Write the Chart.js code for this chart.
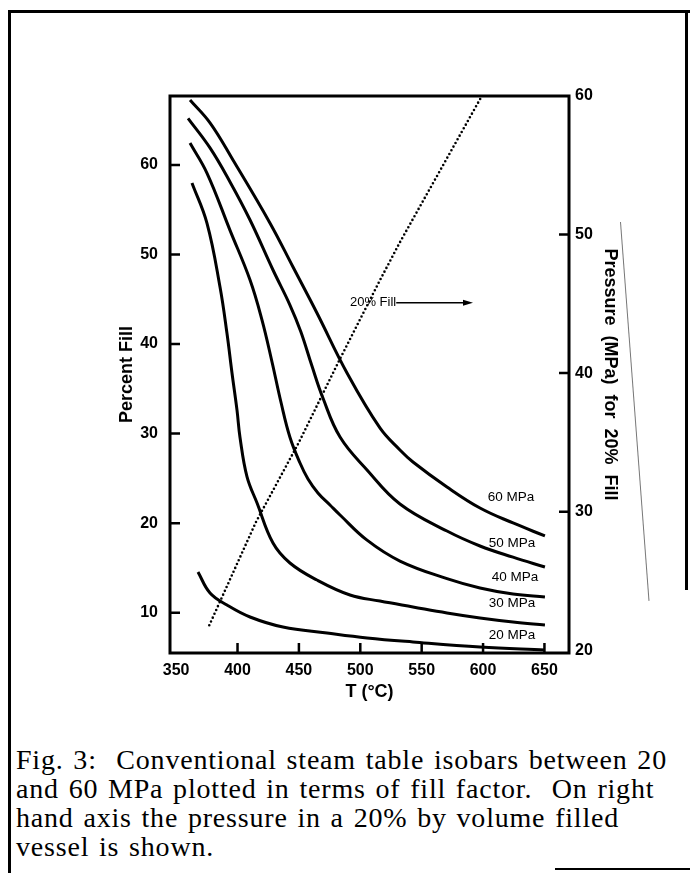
<!DOCTYPE html>
<html>
<head>
<meta charset="utf-8">
<title>Fig. 3 – steam table isobars</title>
<script src="https://cdn.jsdelivr.net/npm/chart.js@4.4.1/dist/chart.umd.min.js"></script>
<style>
  html, body { margin: 0; padding: 0; background: #fff; }
  body { width: 690px; height: 873px; position: relative; overflow: hidden; }
  #box { position: absolute; left: 8px; top: 10px; width: 680px; height: 900px;
         border-left: 3px solid #000; border-top: 3px solid #000; }
  #rightEdge { position: absolute; left: 685px; top: 10px; width: 3px; height: 580px; background: #000; }
  #foot { position: absolute; left: 555px; top: 868px; width: 135px; height: 2px; background: #000; }
  #scan { position: absolute; left: 620px; top: 222px; width: 1px; height: 380px; background: #777;
          transform-origin: 0 0; transform: rotate(-4.3deg); }
  #chartWrap { position: absolute; left: 0; top: 0; }
  #caption { position: absolute; left: 16px; top: 745px; color: #000;
             font: 28px "Liberation Serif", "Times New Roman", serif; line-height: 29px;
             letter-spacing: 0.8px; word-spacing: 2px; white-space: pre; }
</style>
</head>
<body>
<div id="box"></div>
<div id="rightEdge"></div>
<div id="scan"></div>
<div id="chartWrap"><canvas id="chart" width="690" height="720"></canvas></div>
<div id="caption">Fig. 3:  Conventional steam table isobars between 20
and 60 MPa plotted in terms of fill factor.  On right
hand axis the pressure in a 20% by volume filled
vessel is shown.</div>
<div id="foot"></div>

<script>
// --- axis ticks ---
const tempTicks = [350, 400, 450, 500, 550, 600, 650];
const fillTicks = [10, 20, 30, 40, 50, 60];
const pressTicks = [20, 30, 40, 50, 60];

// --- isobars: temperature (°C) vs percent fill ---
const isobars = ['60 MPa', '50 MPa', '40 MPa', '30 MPa', '20 MPa'];

const t60 = [361.3, 377.6, 396.3, 426.5, 445.2, 464.7, 489.2, 516.0, 532.3, 542.9, 570.6, 597.5, 624.4, 650.4];
const f60 = [67.25, 64.7, 60.55, 53.5, 48.6, 43.47, 36.77, 30.63, 28.17, 26.83, 24.04, 21.69, 20.02, 18.57];

const t50 = [359.7, 377.6, 393.9, 410.2, 428.9, 442.7, 451.5, 460.5, 469.5, 483.5, 505.5, 532.3, 570.6, 597.5, 624.4, 650.4];
const f50 = [65.2, 61.9, 58.1, 53.85, 48.27, 44.36, 41.4, 37.6, 34.0, 29.62, 25.94, 22.14, 19.12, 17.45, 16.2, 15.1];

const t40 = [361.3, 375.1, 393.9, 410.2, 419.9, 428.1, 435.4, 442.7, 450.9, 457.4, 465.5, 475.3, 483.5, 505.5, 532.3, 570.6, 597.5, 624.4, 650.4];
const f40 = [62.45, 59.1, 52.7, 47.15, 42.7, 38.0, 33.5, 29.6, 26.72, 24.93, 23.37, 22.03, 20.91, 18.1, 15.77, 13.8, 12.76, 12.09, 11.75];

const t30 = [362.9, 375.1, 385.7, 391.4, 395.5, 399.6, 402.0, 407.7, 415.9, 428.9, 442.7, 464.7, 491.6, 516.0, 542.9, 570.6, 597.5, 624.4, 650.4];
const f30 = [57.98, 53.5, 46.4, 41.2, 36.77, 32.6, 29.6, 25.2, 22.25, 17.78, 15.55, 13.65, 11.98, 11.3, 10.64, 9.97, 9.41, 8.96, 8.63];

const t20 = [367.8, 377.6, 391.4, 410.2, 437.0, 472.9, 505.5, 542.9, 597.5, 650.4];
const f20 = [14.55, 12.2, 10.86, 9.52, 8.4, 7.73, 7.18, 6.73, 6.17, 5.84];

// --- pressure (MPa) in a 20% filled vessel, right axis ---
const tFill = [377, 415, 450, 483, 516, 532, 556, 599];
const pFill = [21.8, 29.25, 35.0, 40.95, 46.7, 49.4, 53.2, 60.0];

// where the curve names sit (°C, % fill)
const labelT = [622.8, 623.6, 626, 623.6, 623.6];
const labelF = [22.9, 17.8, 14.0, 11.0, 7.5];
// "20% Fill" pointer: text start and arrow tip
const noteT = 491.6, noteF = 44.6, arrowT = 591.8;

const pts = (ts, vs) => ts.map((t, i) => ({ x: t, y: vs[i] }));

const isobar = (label, ts, vs) => ({
  label, data: pts(ts, vs), yAxisID: 'y',
  borderColor: '#000', borderWidth: 3, pointRadius: 0,
  tension: 0.4, fill: false
});

const tickFont = { family: '"Liberation Sans", Arial, sans-serif', size: 16, weight: 'bold' };
const titleFont = { family: '"Liberation Sans", Arial, sans-serif', size: 18, weight: 'bold' };

// axes drawn by hand: box, inward tick marks, curve names, arrow
const decorations = {
  id: 'decorations',
  afterDatasetsDraw(chart) {
    const { ctx, chartArea: a } = chart;
    const { x, y, y2 } = chart.scales;
    ctx.save();
    ctx.strokeStyle = '#000';
    ctx.fillStyle = '#000';
    ctx.lineWidth = 3;
    ctx.strokeRect(a.left, a.top, a.right - a.left, a.bottom - a.top);

    ctx.lineWidth = 2.5;
    ctx.beginPath();
    tempTicks.slice(1).forEach(v => {
      const px = x.getPixelForValue(v);
      ctx.moveTo(px, a.bottom); ctx.lineTo(px, a.bottom - 10);
    });
    fillTicks.forEach(v => {
      const py = y.getPixelForValue(v);
      ctx.moveTo(a.left, py); ctx.lineTo(a.left + 10, py);
    });
    pressTicks.slice(1, -1).forEach(v => {
      const py = y2.getPixelForValue(v);
      ctx.moveTo(a.right, py); ctx.lineTo(a.right - 10, py);
    });
    ctx.stroke();

    ctx.font = '13.5px "Liberation Sans", Arial, sans-serif';
    ctx.textAlign = 'center';
    ctx.textBaseline = 'middle';
    isobars.forEach((s, i) => ctx.fillText(s, x.getPixelForValue(labelT[i]), y.getPixelForValue(labelF[i])));

    const fx = x.getPixelForValue(noteT), fy = y.getPixelForValue(noteF);
    ctx.font = '13px "Liberation Sans", Arial, sans-serif';
    ctx.textAlign = 'left';
    ctx.fillText('20% Fill', fx, fy);
    const sx = fx + ctx.measureText('20% Fill').width;
    const ax = x.getPixelForValue(arrowT);
    ctx.lineWidth = 1.5;
    ctx.beginPath(); ctx.moveTo(sx, fy); ctx.lineTo(ax - 6, fy); ctx.stroke();
    ctx.beginPath(); ctx.moveTo(ax, fy); ctx.lineTo(ax - 10, fy - 3); ctx.lineTo(ax - 10, fy + 3); ctx.closePath(); ctx.fill();
    ctx.restore();
  }
};

new Chart(document.getElementById('chart'), {
  type: 'line',
  data: {
    datasets: [
      isobar(isobars[0], t60, f60),
      isobar(isobars[1], t50, f50),
      isobar(isobars[2], t40, f40),
      isobar(isobars[3], t30, f30),
      isobar(isobars[4], t20, f20),
      {
        label: '20% Fill', data: pts(tFill, pFill), yAxisID: 'y2',
        borderColor: '#000', borderWidth: 2.6, borderDash: [0, 4.2], borderCapStyle: 'round',
        pointRadius: 0, tension: 0, fill: false
      }
    ]
  },
  options: {
    responsive: false,
    animation: false,
    layout: { padding: { top: 96 } },
    plugins: { legend: { display: false }, tooltip: { enabled: false } },
    scales: {
      x: {
        type: 'linear', min: 345, max: 670,
        afterFit: s => { s.height = 67; },
        afterBuildTicks: s => { s.ticks = tempTicks.map(v => ({ value: v })); },
        grid: { display: false, drawTicks: false }, border: { display: false },
        ticks: { autoSkip: false, maxRotation: 0, padding: 8, color: '#000', font: tickFont },
        title: { display: true, text: 'T (°C)', color: '#000', font: titleFont, padding: { top: 0, bottom: 17 } }
      },
      y: {
        type: 'linear', position: 'left', min: 5.5, max: 67.7,
        afterFit: s => { s.width = 170; },
        afterBuildTicks: s => { s.ticks = fillTicks.map(v => ({ value: v })); },
        grid: { display: false, drawTicks: false }, border: { display: false },
        ticks: { padding: 12, color: '#000', font: tickFont },
        title: { display: true, text: 'Percent Fill', color: '#000', font: titleFont, padding: { top: 116, bottom: 0 } }
      },
      y2: {
        type: 'linear', position: 'right', min: 19.8, max: 60,
        afterFit: s => { s.width = 121; },
        afterBuildTicks: s => { s.ticks = pressTicks.map(v => ({ value: v })); },
        grid: { display: false, drawTicks: false }, border: { display: false },
        ticks: { padding: 6, color: '#000', font: tickFont },
        title: { display: true, text: 'Pressure  (MPa)  for  20%  Fill', color: '#000', font: titleFont, padding: { top: 69, bottom: 0 } }
      }
    }
  },
  plugins: [decorations]
});
</script>
</body>
</html>
